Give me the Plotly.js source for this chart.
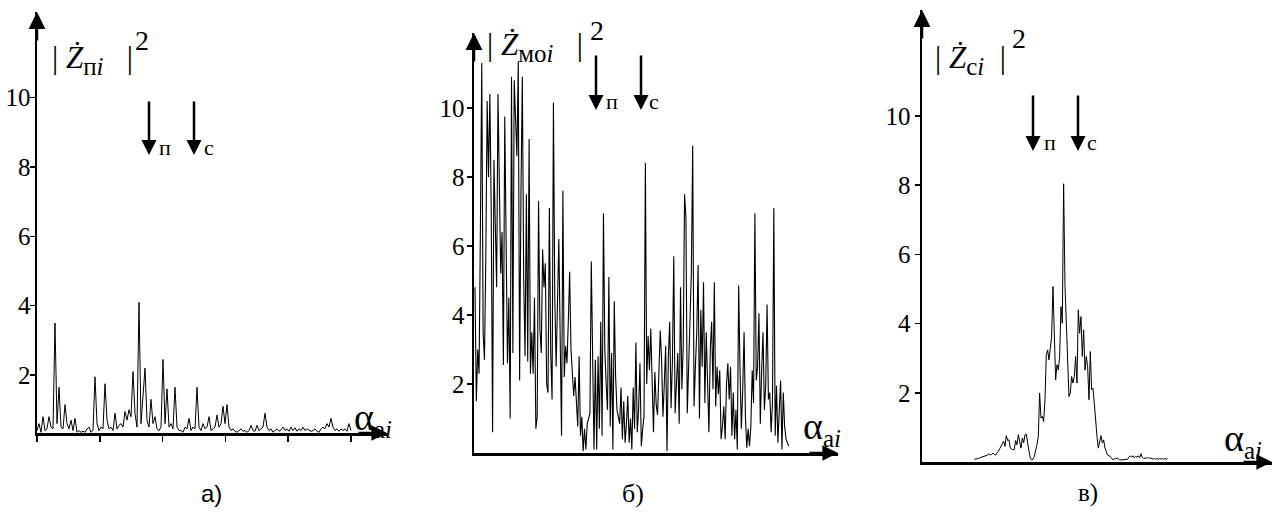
<!DOCTYPE html>
<html><head><meta charset="utf-8">
<script src="https://cdn.plot.ly/plotly-3.0.1.min.js"></script>
<style>html,body{margin:0;padding:0;background:#fff}</style>
</head><body>
<div id="chart" style="width:1277px;height:516px"></div>
<script>
// ---- data (values of |Z|^2) ----
const zP = [
0.4,0.6,0.35,0.8,0.4,0.45,0.8,0.5,0.45,3.5,
0.6,1.65,0.5,0.45,1.15,0.6,0.45,0.7,0.4,0.75,
0.35,0.4,0.35,0.38,0.35,0.45,0.5,0.35,0.4,1.95,
0.6,0.4,0.5,0.45,1.75,0.7,0.45,0.5,0.4,0.9,
0.45,0.55,0.6,0.5,0.95,0.7,1.0,0.8,2.1,0.9,
0.5,4.1,0.6,1.3,2.2,0.7,0.5,1.3,0.6,0.8,
0.45,0.4,0.5,2.45,0.6,1.6,0.5,0.6,0.45,1.65,
0.5,0.4,0.4,0.35,0.5,0.45,0.75,0.4,0.5,0.45,
1.65,0.5,0.4,0.6,0.45,0.5,0.8,0.4,0.45,0.5,
0.85,0.5,0.6,1.1,0.6,1.15,0.5,0.4,0.45,0.38,
0.35,0.4,0.45,0.38,0.4,0.35,0.4,0.55,0.4,0.38,
0.55,0.4,0.45,0.5,0.9,0.5,0.4,0.45,0.35,0.4,
0.45,0.38,0.42,0.5,0.4,0.45,0.38,0.5,0.4,0.48,
0.38,0.45,0.4,0.5,0.4,0.45,0.42,0.38,0.4,0.45,
0.38,0.35,0.45,0.5,0.45,0.6,0.5,0.75,0.5,0.4,
0.45,0.38,0.45,0.4,0.45,0.38,0.6,0.4
];
const zMO = [
4.8,1.5,3.0,2.3,6.5,11.3,3.5,2.7,5.7,10.2,
8.0,10.4,7.0,0.6,8.5,6.0,4.8,10.4,6.8,5.2,
6.4,2.55,9.75,5.0,2.6,4.5,1.0,10.9,2.9,10.8,
9.5,8.6,11.35,2.1,7.6,10.9,5.1,2.8,7.5,2.65,
9.1,2.3,3.5,2.3,4.5,0.7,1.05,7.3,3.6,2.9,
5.9,4.8,5.5,2.0,1.75,7.1,2.9,1.55,10.15,4.5,
2.5,4.0,6.2,3.3,0.5,7.6,2.2,3.1,2.6,3.8,
5.25,3.0,2.1,1.65,2.2,1.55,0.77,2.8,0.5,1.05,
0.05,0.7,0.1,0.85,1.0,1.15,5.55,2.5,0.1,2.7,
0.1,2.8,0.7,3.8,0.5,6.95,3.0,2.0,1.25,5.1,
0.77,2.9,0.1,4.4,2.2,1.25,1.0,0.85,1.9,0.4,
1.5,0.3,0.85,1.65,0.3,1.0,0.1,1.9,0.7,3.2,
0.6,1.25,2.6,0.2,0.7,1.05,8.4,2.0,3.4,2.4,
3.6,1.55,0.6,2.35,1.4,1.1,2.7,3.55,2.7,1.05,
2.0,3.1,0.05,2.8,3.8,1.3,2.65,5.7,1.15,1.85,
2.9,0.85,4.8,1.85,3.1,7.5,6.8,1.15,2.5,3.5,
5.2,8.9,1.35,2.5,3.5,5.45,1.0,4.15,2.5,4.95,
1.45,3.5,1.95,0.6,3.0,3.8,1.85,4.95,1.35,2.5,
1.7,2.4,0.4,0.77,1.35,0.4,2.0,2.6,1.55,2.5,
0.5,1.75,0.4,1.25,0.1,4.85,2.4,0.7,1.85,3.5,
1.05,0.15,0.7,0.2,0.77,2.4,1.45,6.95,2.1,2.5,
4.05,0.85,2.4,3.5,1.25,1.95,4.3,1.55,1.75,0.6,
1.45,7.1,0.5,1.95,0.3,1.45,2.1,0.1,1.75,0.77,
0.4,0.3,0.2
];
const zC = [
0.08,0.08,0.1,0.1,0.12,0.13,0.14,0.15,0.16,0.18,
0.2,0.24,0.2,0.22,0.26,0.22,0.2,0.27,0.3,0.38,
0.47,0.55,0.6,0.45,0.76,0.62,0.64,0.4,0.36,0.35,
0.37,0.62,0.5,0.79,0.6,0.4,0.69,0.55,0.79,0.8,
0.55,0.26,0.11,0.06,0.08,0.16,0.3,0.5,0.74,1.99,
1.27,1.32,1.17,1.8,3.1,3.24,2.95,3.34,3.63,5.07,
3.24,2.37,2.81,2.66,3.05,4.49,4.01,8.04,5.1,4.11,
2.81,1.89,1.99,2.47,2.28,2.47,3.05,2.28,4.4,3.72,
4.2,3.05,3.82,2.66,3.05,2.76,1.8,3.19,2.09,2.13,
1.7,1.12,0.74,0.4,0.55,0.76,0.55,0.64,0.4,0.3,
0.2,0.18,0.16,0.11,0.06,0.1,0.08,0.12,0.08,0.06,
0.06,0.06,0.06,0.06,0.06,0.08,0.14,0.18,0.14,0.18,
0.12,0.16,0.14,0.18,0.12,0.24,0.14,0.1,0.12,0.1,
0.14,0.1,0.12,0.1,0.08,0.1,0.08,0.1,0.08,0.1,
0.08,0.1,0.08,0.1,0.08,0.1
];
const yTicks = [2,4,6,8,10];
const panelLabels = ['а)','б)','в)'];
const markLabels = ['п','с'];

// ---- layout helpers ----
const W = 1277, H = 516;
const px = v => v / W;
const py = v => 1 - v / H;
const idx = arr => arr.map((_, i) => i);

const FSERIF = 'Times New Roman';
const FSANS = 'Liberation Sans';

function yAxis(anchor, dom, range, standoff) {
  return {
    anchor: anchor, domain: dom, range: range, showline: true, linewidth: 2.5, linecolor: '#000',
    ticks: 'outside', ticklen: 5, tickwidth: 1.5, tickcolor: '#000', tickvals: yTicks,
    ticklabelstandoff: standoff,
    showgrid: false, zeroline: false, fixedrange: true,
    tickfont: {family: FSERIF, size: 25, color: '#000'}
  };
}
function xAxis(anchor, dom, range, withTicks, dtick) {
  const a = {
    anchor: anchor, domain: dom, range: range, showline: true, linewidth: 2.5, linecolor: '#000',
    showgrid: false, zeroline: false, showticklabels: false, fixedrange: true,
    ticks: withTicks ? 'outside' : '', ticklen: 6, tickwidth: 1.5, tickcolor: '#000'
  };
  if (withTicks) { a.tick0 = 0; a.dtick = dtick; }
  return a;
}

// panel geometry (pixels)
const stepB = (788.7 - 475) / (zMO.length - 1);
const stepC = 4 / 3;

const traces = [
  {x: idx(zP), y: zP, xaxis: 'x', yaxis: 'y', type: 'scatter', mode: 'lines',
   line: {color: '#000', width: 1}, hoverinfo: 'skip'},
  {x: idx(zMO), y: zMO, xaxis: 'x2', yaxis: 'y2', type: 'scatter', mode: 'lines',
   line: {color: '#000', width: 1.1}, hoverinfo: 'skip'},
  {x: idx(zC), y: zC, xaxis: 'x3', yaxis: 'y3', type: 'scatter', mode: 'lines',
   line: {color: '#000', width: 1}, hoverinfo: 'skip'}
];

const ann = [];
function arrow(x, y, ax, ay, size) {
  ann.push({xref: 'paper', yref: 'paper', x: px(x), y: py(y), ax: ax, ay: ay, text: '',
    showarrow: true, arrowhead: 2, arrowwidth: 2.5, arrowsize: size, arrowcolor: '#000', standoff: 0});
}
function txt(x, y, text, size, family, xanchor) {
  ann.push({xref: 'paper', yref: 'paper', x: px(x), y: py(y), text: text, showarrow: false,
    xanchor: xanchor || 'left', yanchor: 'middle', font: {family: family || FSERIF, size: size, color: '#000'}});
}
// axis arrowheads
arrow(37, 12, 0, 30, 1.35);   arrow(387, 433, -30, 0, 1.25);
arrow(474, 33, 0, 30, 1.35);  arrow(838, 453, -30, 0, 1.25);
arrow(922, 10, 0, 30, 1.35);  arrow(1272, 462, -30, 0, 1.25);
// down arrows п / с
arrow(149, 155, 0, -55, 1.2); arrow(194, 155, 0, -55, 1.2);
arrow(596, 110, 0, -56, 1.2); arrow(641, 110, 0, -56, 1.2);
arrow(1033, 151, 0, -57, 1.2); arrow(1078, 151, 0, -57, 1.2);
txt(157, 147, markLabels[0], 22); txt(202, 147, markLabels[1], 22);
txt(604, 101, markLabels[0], 22); txt(647, 101, markLabels[1], 22);
txt(1042, 142, markLabels[0], 22); txt(1085, 142, markLabels[1], 22);
// axis titles
const SUB = s => "<sub><span style='font-size:25px'>" + s + "</span></sub>";
txt(50, 60, '| <i>Ż</i>' + SUB('п<i>i</i>') + '   |', 31);
txt(133, 40, '2', 28);
txt(485, 47, '| <i>Ż</i>' + SUB('мо<i>i</i>') + '   |', 31);
txt(588, 31, '2', 28);
txt(933, 60, '| <i>Ż</i>' + SUB('с<i>i</i>') + '  |', 31);
txt(1010, 38, '2', 28);
// alpha labels
txt(352, 419, 'α' + SUB('a<i>i</i>'), 38);
txt(801, 428, 'α' + SUB('a<i>i</i>'), 38);
txt(1222, 440, 'α' + SUB('a<i>i</i>'), 38);
// panel captions
txt(211, 493, panelLabels[0], 24, FSANS, 'center');
txt(633, 493, panelLabels[1], 26, FSERIF, 'center');
txt(1088, 493, panelLabels[2], 25, FSERIF, 'center');

const layout = {
  width: W, height: H, margin: {l: 0, r: 0, t: 0, b: 0},
  font: {family: FSERIF, color: '#000'},
  paper_bgcolor: '#fff', plot_bgcolor: 'rgba(0,0,0,0)', showlegend: false,
  xaxis: xAxis('y', [px(37), px(387)], [0, 175], true, 31.4),
  yaxis: yAxis('x', [py(433), py(12)], [0.33, 12.47], -6),
  xaxis2: xAxis('y2', [px(474), px(838)], [(474 - 475) / stepB, (838 - 475) / stepB], false),
  yaxis2: yAxis('x2', [py(453), py(33)], [0, 12.17], -3),
  xaxis3: xAxis('y3', [px(922), px(1272)], [(922 - 974.3) / stepC, (1272 - 974.3) / stepC], false),
  yaxis3: yAxis('x3', [py(462), py(10)], [0, 13.06], -1),
  annotations: ann
};
Plotly.newPlot('chart', traces, layout, {staticPlot: true, displayModeBar: false});
</script>
</body></html>
